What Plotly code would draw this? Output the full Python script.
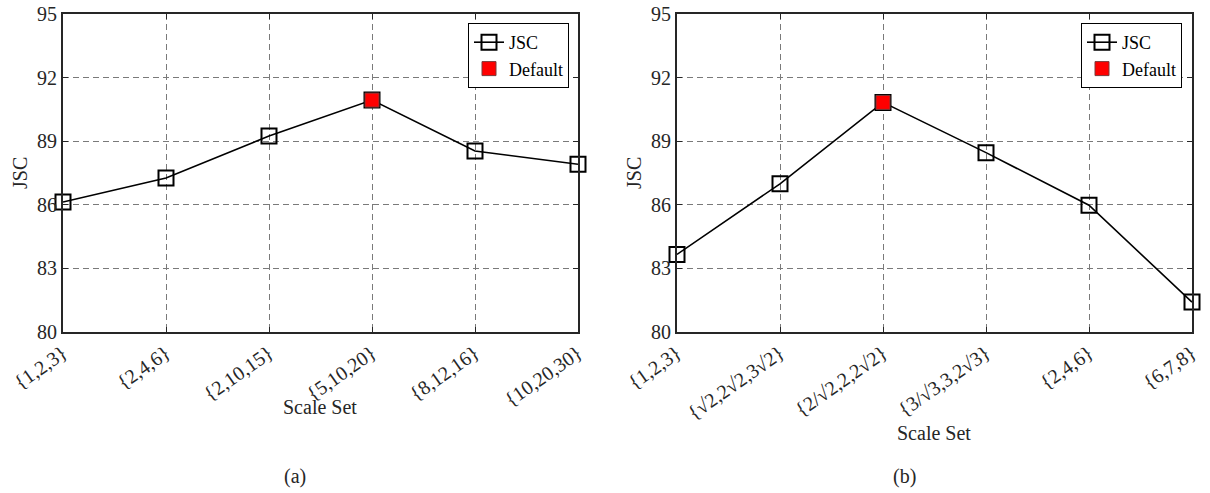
import plotly.graph_objects as go

# ---- data ----
categories_a = ["{1,2,3}", "{2,4,6}", "{2,10,15}", "{5,10,20}", "{8,12,16}", "{10,20,30}"]
jsc_a = [86.13, 87.26, 89.24, 90.94, 88.54, 87.91]
default_idx_a = 3

categories_b = ["{1,2,3}", "{√2,2√2,3√2}", "{2/√2,2,2√2}", "{3/√3,3,2√3}", "{2,4,6}", "{6,7,8}"]
jsc_b = [83.66, 86.99, 90.83, 88.46, 85.98, 81.41]
default_idx_b = 2

y_ticks = [80, 83, 86, 89, 92, 95]

W, H = 1210, 493
FONT = "Liberation Serif"
TXT = "#262626"

def px_x(p):
    return p / W

def px_y(p):
    return 1 - p / H

fig = go.Figure()

panels = [
    ("x", "y", categories_a, jsc_a, default_idx_a, "legend"),
    ("x2", "y2", categories_b, jsc_b, default_idx_b, "legend2"),
]

for xa, ya, cats, vals, didx, leg in panels:
    fig.add_trace(go.Scatter(
        x=cats, y=vals, mode="lines+markers", name="JSC",
        xaxis=xa, yaxis=ya, legend=leg, cliponaxis=False,
        line=dict(color="black", width=1.6),
        marker=dict(symbol="square-open", size=15, color="black", line=dict(width=2)),
    ))
    fig.add_trace(go.Scatter(
        x=[cats[didx]], y=[vals[didx]], mode="markers", name="Default",
        xaxis=xa, yaxis=ya, legend=leg, cliponaxis=False,
        marker=dict(symbol="square", size=14, color="#ff0000", line=dict(width=1, color="#7a3a3a")),
    ))

axis_common = dict(
    showline=True, linecolor="#262626", linewidth=1.8, mirror="ticks",
    ticks="inside", ticklen=5, tickwidth=1.2, tickcolor="#262626",
    showgrid=True, gridcolor="#7a7a7a", gridwidth=1, griddash="6px,4px",
    zeroline=False, automargin=False,
    tickfont=dict(family=FONT, size=20, color=TXT),
)

leg_common = dict(
    xanchor="right", yanchor="top", xref="paper", yref="paper",
    bgcolor="white", bordercolor="black", borderwidth=1,
    font=dict(family=FONT, size=18, color="black"),
    tracegroupgap=0, itemwidth=30,
)

fig.update_layout(
    width=W, height=H,
    margin=dict(l=0, r=0, t=0, b=0),
    paper_bgcolor="white", plot_bgcolor="white",
    showlegend=True,
    xaxis=dict(domain=[px_x(63), px_x(578)], anchor="y", type="category",
               range=[0, 5], tickangle=-35, **axis_common),
    yaxis=dict(domain=[px_y(332), px_y(14)], anchor="x", range=[80, 95],
               tickvals=y_ticks, **axis_common),
    xaxis2=dict(domain=[px_x(677), px_x(1192)], anchor="y2", type="category",
                range=[0, 5], tickangle=-35, **axis_common),
    yaxis2=dict(domain=[px_y(332), px_y(14)], anchor="x2", range=[80, 95],
                tickvals=y_ticks, **axis_common),
    legend=dict(x=px_x(569), y=px_y(23), **leg_common),
    legend2=dict(x=px_x(1182), y=px_y(23), **leg_common),
)

annots = [
    ("JSC", 20, 173, 90),
    ("JSC", 634, 173, 90),
    ("Scale Set", 320, 407, 0),
    ("Scale Set", 934, 433, 0),
    ("(a)", 295, 476, 0),
    ("(b)", 905, 476, 0),
]
for text, x, y, ang in annots:
    fig.add_annotation(
        text=text, x=px_x(x), y=px_y(y), xref="paper", yref="paper",
        showarrow=False, textangle=-ang, xanchor="center", yanchor="middle",
        font=dict(family=FONT, size=20, color=TXT),
    )

fig.write_html("out.html")
